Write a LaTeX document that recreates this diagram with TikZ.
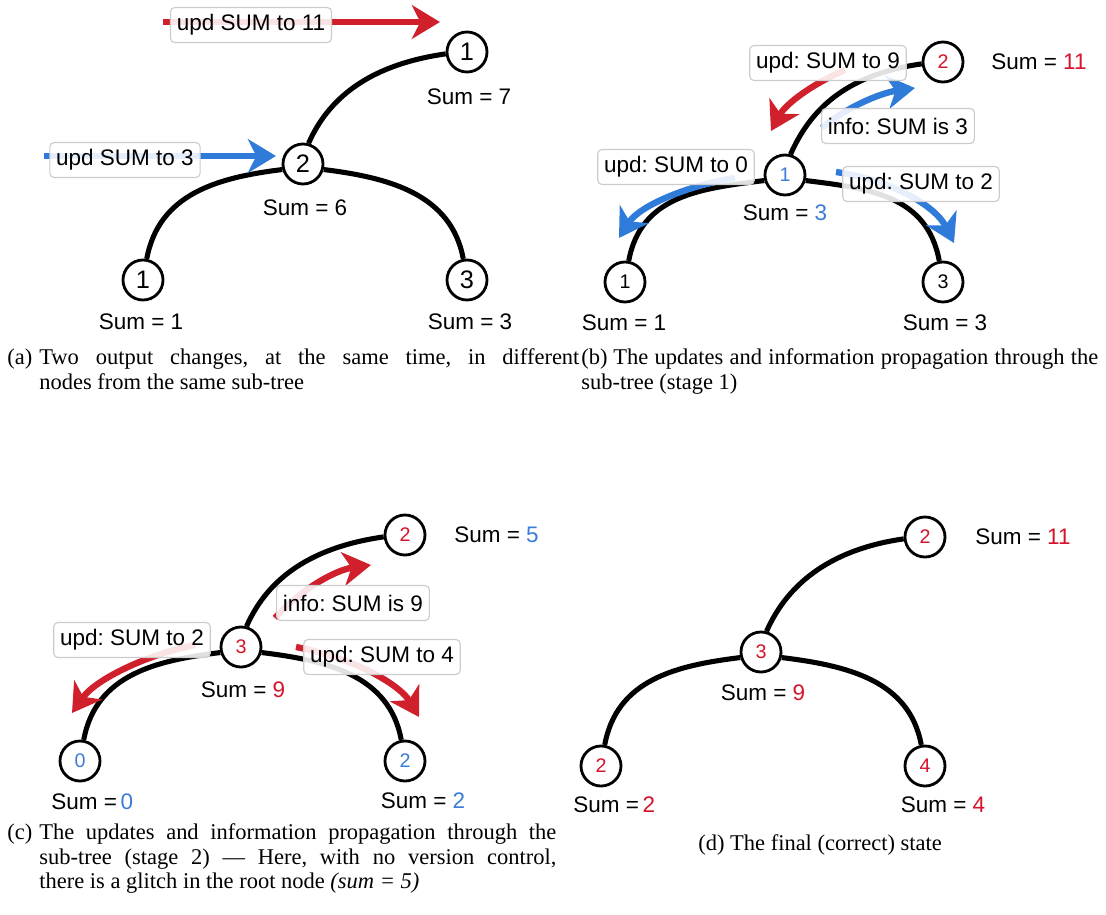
\documentclass[tikz,border=0pt]{standalone}
\usepackage{fontspec}
\setmainfont{Liberation Serif}
\setsansfont{Liberation Sans}
\usetikzlibrary{arrows.meta}
\frenchspacing
\definecolor{updRed}{HTML}{D0202C}
\definecolor{updBlue}{HTML}{2F7BD9}
\definecolor{numRed}{HTML}{D5142B}
\definecolor{numBlue}{HTML}{3A7CD8}
\definecolor{msgStroke}{HTML}{CCCCCC}

\begin{document}
\begin{tikzpicture}[
  x=0.025cm,y=-0.025cm,font=\sffamily\fontsize{16}{19}\selectfont,
  >={Stealth[length=20pt,width=24pt,inset=6pt]},
  tnode/.style={circle,draw=black,line width=2pt,fill=white,minimum size=1cm,inner sep=0pt,font=\sffamily\fontsize{14}{16}\selectfont},
  tnodebig/.style={tnode,font=\sffamily\fontsize{18}{20}\selectfont},
  sumlbl/.style={inner sep=0pt},
  msg/.style={rectangle,rounded corners=3pt,draw=msgStroke,line width=.8pt,fill=white,fill opacity=.88,text opacity=1,inner xsep=4.5pt,minimum height=.875cm},
  link/.style={line width=3.6pt},
  updred/.style={->,line width=4.5pt,updRed},
  updblue/.style={->,line width=4.5pt,updBlue},
  caption/.style={font=\rmfamily\fontsize{16}{17.7}\selectfont,anchor=north west,inner sep=0pt}
]
\useasboundingbox (0,0) rectangle (1106,915);

% sub-tree nodes, one copy per stage
\node[tnodebig] (rootA) at (467,52) {1};
\node[tnodebig] (midA) at (303,164) {2};
\node[tnodebig] (leftA) at (143,280) {1};
\node[tnodebig] (rightA) at (467,280) {3};
\node[sumlbl] (sumRootA) at (469,97) {Sum = 7};
\node[sumlbl] (sumMidA) at (305,208) {Sum = 6};
\node[sumlbl] (sumLeftA) at (141,322) {Sum = 1};
\node[sumlbl] (sumRightA) at (470,322) {Sum = 3};

\node[tnode] (rootB) at (943,62) {\textcolor{numRed}{2}};
\node[tnode] (midB) at (785,175) {\textcolor{numBlue}{1}};
\node[tnode] (leftB) at (625,282) {1};
\node[tnode] (rightB) at (943,282) {3};
\node[sumlbl,anchor=west] (sumRootB) at (991,62) {Sum = \textcolor{numRed}{11}};
\node[sumlbl] (sumMidB) at (785,213) {Sum = \textcolor{numBlue}{3}};
\node[sumlbl] (sumLeftB) at (624,323) {Sum = 1};
\node[sumlbl] (sumRightB) at (945,323) {Sum = 3};

\node[tnode] (rootC) at (405,535) {\textcolor{numRed}{2}};
\node[tnode] (midC) at (241,647) {\textcolor{numRed}{3}};
\node[tnode] (leftC) at (80,761) {\textcolor{numBlue}{0}};
\node[tnode] (rightC) at (405,761) {\textcolor{numBlue}{2}};
\node[sumlbl,anchor=west] (sumRootC) at (454,535) {Sum = \textcolor{numBlue}{5}};
\node[sumlbl] (sumMidC) at (243,690) {Sum = \textcolor{numRed}{9}};
\node[sumlbl,anchor=west] (sumLeftC) at (51,802) {Sum =\,\textcolor{numBlue}{0}};
\node[sumlbl] (sumRightC) at (423,801) {Sum = \textcolor{numBlue}{2}};

\node[tnode] (rootD) at (925,537) {\textcolor{numRed}{2}};
\node[tnode] (midD) at (761,652) {\textcolor{numRed}{3}};
\node[tnode] (leftD) at (601,766) {\textcolor{numRed}{2}};
\node[tnode] (rightD) at (925,766) {\textcolor{numRed}{4}};
\node[sumlbl,anchor=west] (sumRootD) at (975,537) {Sum = \textcolor{numRed}{11}};
\node[sumlbl] (sumMidD) at (763,693) {Sum = \textcolor{numRed}{9}};
\node[sumlbl,anchor=west] (sumLeftD) at (573,805) {Sum =\,\textcolor{numRed}{2}};
\node[sumlbl] (sumRightD) at (943,805) {Sum = \textcolor{numRed}{4}};

% same arc shapes in every stage
\foreach \p in {A,B,C,D}{
  \draw[link] (mid\p.75) .. controls +(22,-50) and +(-70,10) .. (root\p.185);
  \draw[link] (mid\p.195) .. controls +(-65,8) and +(12,-65) .. (left\p.80);
  \draw[link] (mid\p.-15) .. controls +(65,8) and +(-12,-65) .. (right\p.100);
}

% (a) the two updates
\coordinate (u11A) at (163,22); \coordinate (u11tipA) at (440,22);
\coordinate (u3A) at (44,156); \coordinate (u3tipA) at (276,156);
\draw[updred] (u11A) -- (u11tipA);
\draw[updblue] (u3A) -- (u3tipA);
\node[msg] (msgU11A) at (251,25) {upd SUM to 11};
\node[msg] (msgU3A) at (125,160) {upd SUM to 3};

% (b) stage 1
\coordinate (u9B) at (845,70); \coordinate (u9tipB) at (771,131);
\coordinate (i3B) at (822,128); \coordinate (i3tipB) at (915,88);
\coordinate (u0B) at (735,178); \coordinate (u0tipB) at (619,238);
\coordinate (u2B) at (836,172); \coordinate (u2tipB) at (954,243);
\draw[updred] (u9B) .. controls +(-35,15) and +(14,-26) .. (u9tipB);
\draw[updblue] (i3B) .. controls +(23,-20) and +(-35,5) .. (i3tipB);
\draw[updblue] (u0B) .. controls +(-45,7) and +(21,-33) .. (u0tipB);
\draw[updblue] (u2B) .. controls +(54,8) and +(-19,-38) .. (u2tipB);
\node[msg] (msgU9B) at (828,63) {upd: SUM to 9};
\node[msg] (msgI3B) at (898,126) {info: SUM is 3};
\node[msg] (msgU0B) at (676,167) {upd: SUM to 0};
\node[msg] (msgU2B) at (921,184) {upd: SUM to 2};

% (c) stage 2
\coordinate (i9C) at (275,618); \coordinate (i9tipC) at (371,565);
\coordinate (u2C) at (195,645); \coordinate (u2tipC) at (72,713);
\coordinate (u4C) at (296,647); \coordinate (u4tipC) at (419,717);
\draw[updred] (i9C) .. controls +(25,-28) and +(-36,5) .. (i9tipC);
\draw[updred] (u2C) .. controls +(-50,10) and +(23,-33) .. (u2tipC);
\draw[updred] (u4C) .. controls +(59,11) and +(-19,-32) .. (u4tipC);
\node[msg] (msgI9C) at (353,603) {info: SUM is 9};
\node[msg] (msgU2C) at (132,640) {upd: SUM to 2};
\node[msg] (msgU4C) at (382,657) {upd: SUM to 4};

% sub-captions, label hanging in front of the text
\node[caption] (capA) at (7,348)
 {\makebox[.8cm][l]{(a)}\parbox[t]{13.5cm}{Two output changes, at the same time, in different\linebreak nodes from the same sub-tree}};
\node[caption,text width=12.925cm,align=justify] (capB) at (581,348)
 {\makebox[.8cm][l]{(b)}The updates and information propagation through the\linebreak sub-tree (stage 1)};
\node[caption] (capC) at (7,823)
 {\makebox[.8cm][l]{(c)}\parbox[t]{12.925cm}{The updates and information propagation through the\linebreak sub-tree (stage 2) --- Here, with no version control,\linebreak there is a glitch in the root node \textit{(sum = 5)}}};
\node[caption,anchor=base west] (capD) at (698,850) {(d) The final (correct) state};
\end{tikzpicture}
\end{document}
